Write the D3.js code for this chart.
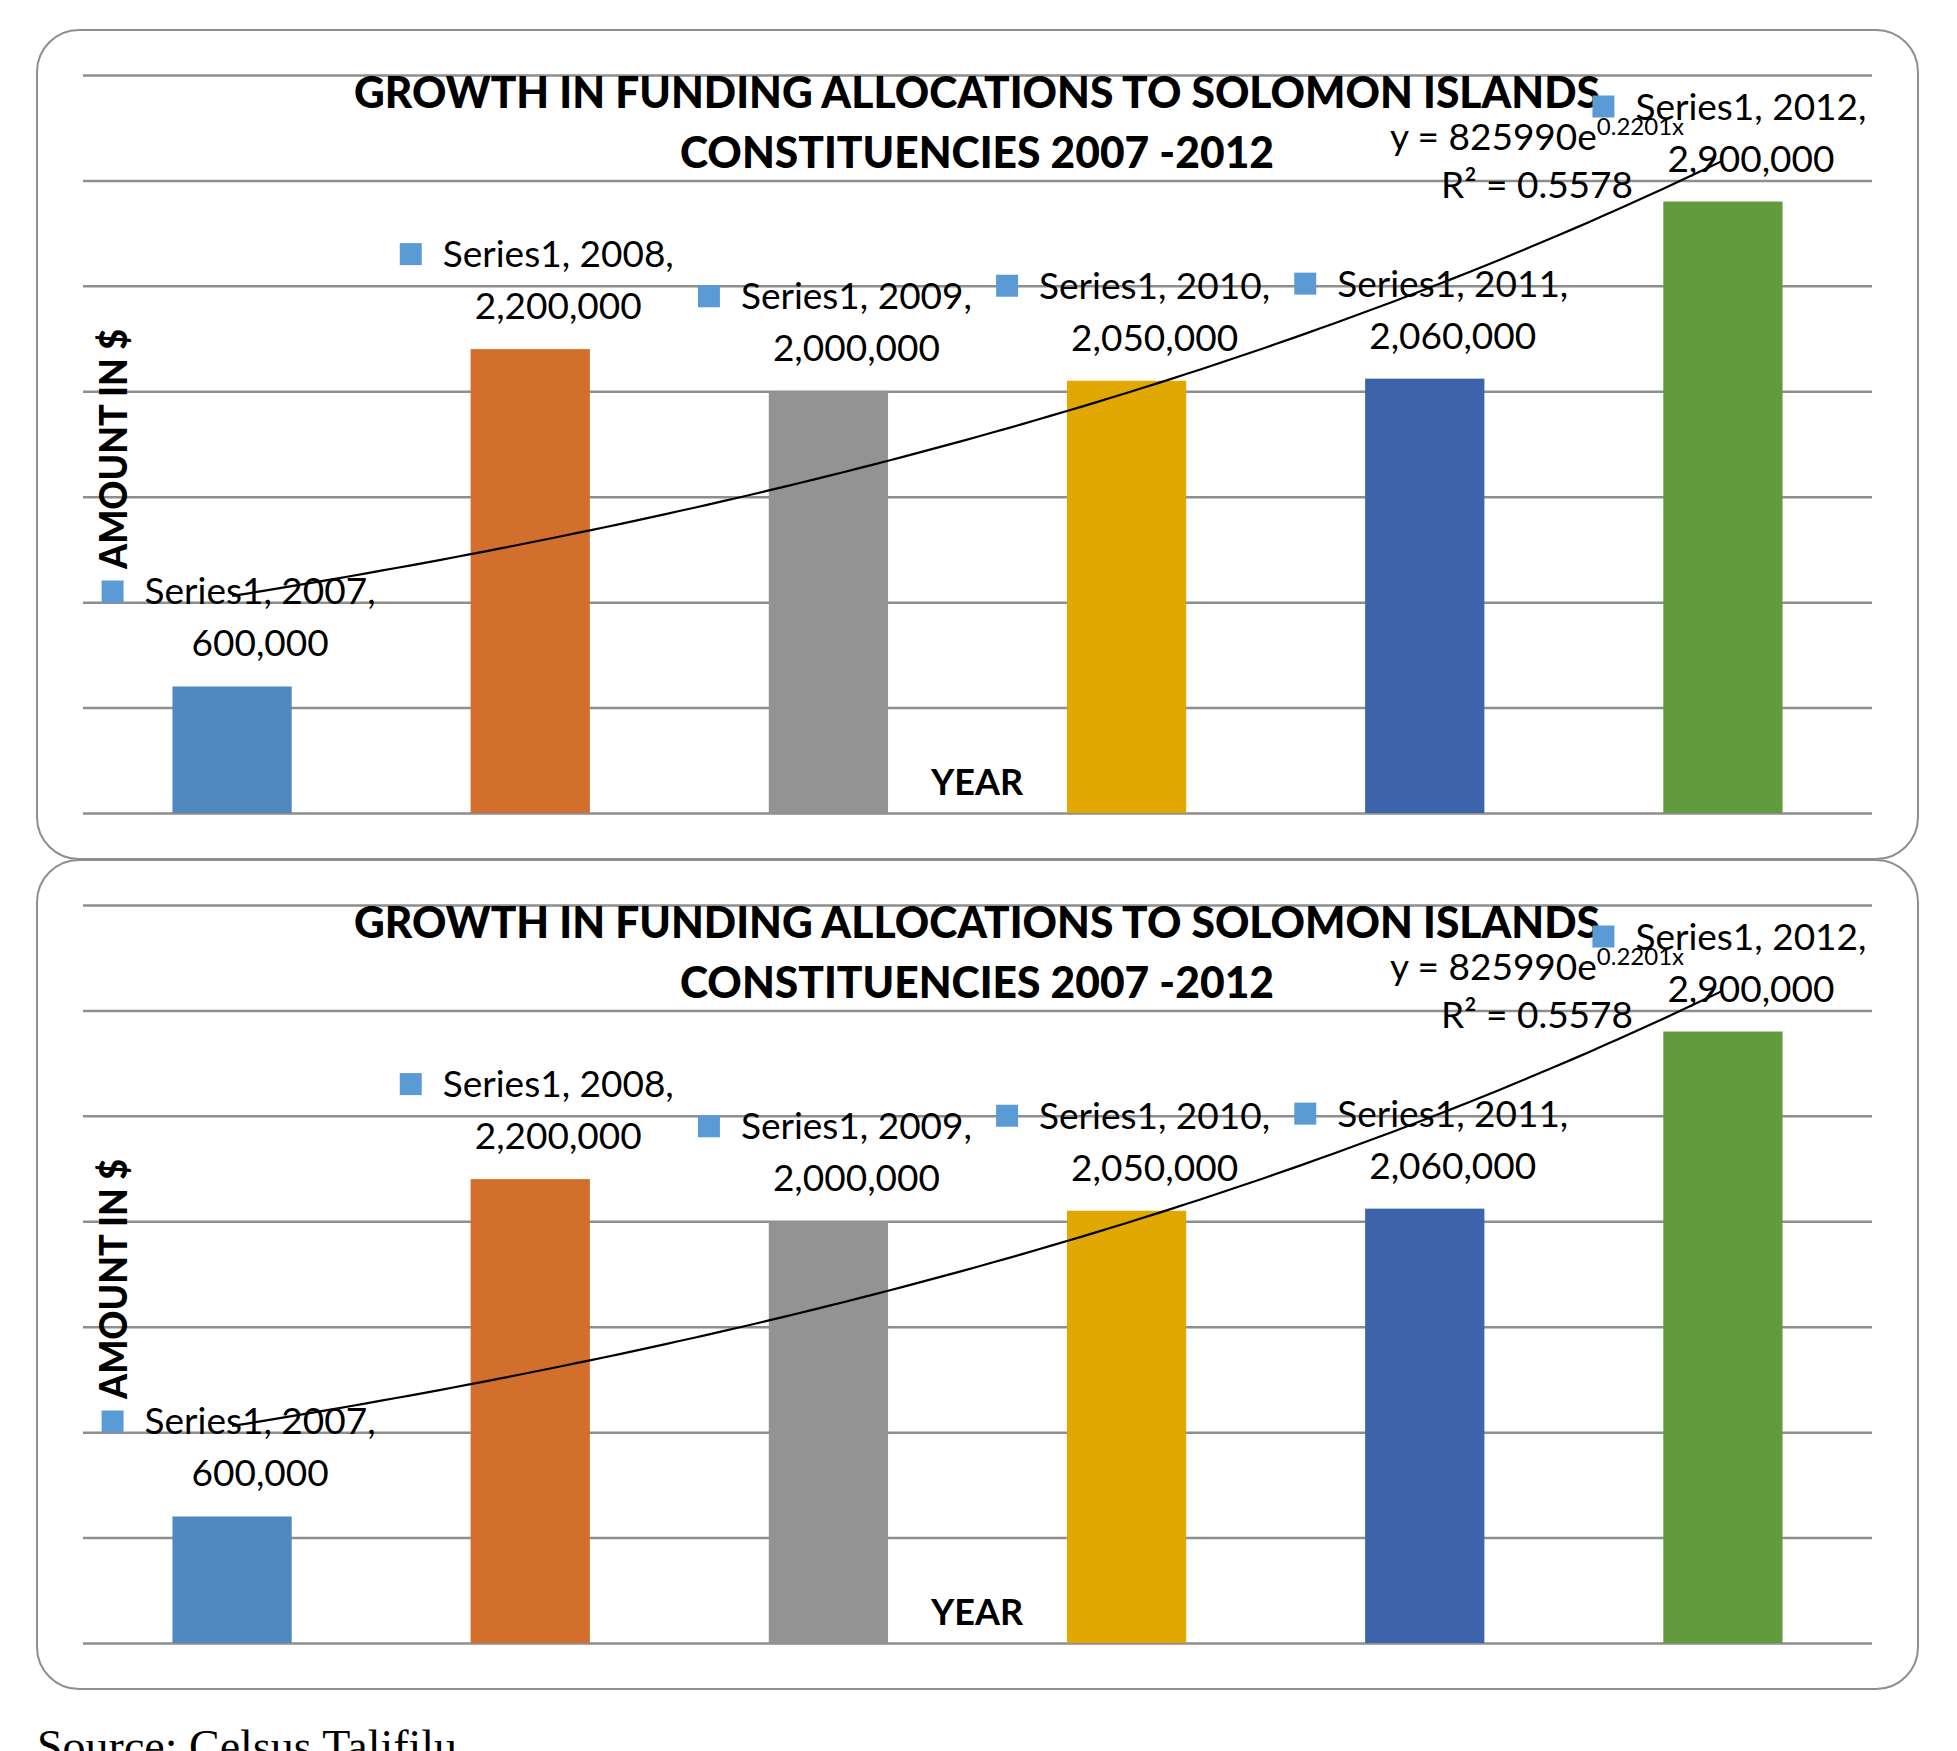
<!DOCTYPE html>
<html>
<head>
<meta charset="utf-8">
<script src="https://cdn.jsdelivr.net/npm/d3@7"></script>
<style>
  body { margin: 0; background: #fff; overflow: hidden; }
  svg { display: block; }
</style>
</head>
<body>
<div id="chart"></div>
<script>
/* funding allocations to constituencies */
var years = ["2007", "2008", "2009", "2010", "2011", "2012"];
var amounts = [600000, 2200000, 2000000, 2050000, 2060000, 2900000];
var yTicks = [0, 500000, 1000000, 1500000, 2000000, 2500000, 3000000, 3500000];
var trendA = 825990, trendB = 0.2201, trendR2 = "0.5578";
var titleLines = ["GROWTH IN FUNDING ALLOCATIONS TO SOLOMON ISLANDS", "CONSTITUENCIES 2007 -2012"];

var barColors = ["#5089BF", "#D36F2C", "#939393", "#E0A800", "#3D64AB", "#629A3E"];
var keyColor = "#5B9BD5";
var gridColor = "#8e8e8e";

var W = 1957, H = 1751;
var panelH = 830;

var svg = d3.select("#chart")
    .append("svg")
    .attr("width", W)
    .attr("height", H);

var x = d3.scaleBand().domain(years).range([83, 1872]).paddingInner(0.6).paddingOuter(0.3);
var y = d3.scaleLinear().domain([0, 3500000]).range([813, 75]);
var fmt = d3.format(",");

function center(d) { return x(d) + x.bandwidth() / 2; }

function drawPanel(offsetY) {
    var g = svg.append("g").attr("transform", "translate(0," + offsetY + ")");

    // frame
    g.append("rect")
        .attr("x", 37).attr("y", 30)
        .attr("width", 1918 - 37).attr("height", 829)
        .attr("rx", 42).attr("ry", 42)
        .style("fill", "none")
        .style("stroke", gridColor)
        .style("stroke-width", 2);

    // gridlines via axis
    var yAxis = d3.axisLeft(y).tickValues(yTicks).tickSize(-(1872 - 83)).tickFormat("");
    var ga = g.append("g")
        .attr("class", "axis")
        .attr("transform", "translate(83,0)")
        .call(yAxis);
    ga.select(".domain").remove();
    ga.selectAll(".tick line").style("stroke", gridColor).style("stroke-width", 2.5);

    // bars
    g.selectAll(".bar")
        .data(amounts)
        .enter()
        .append("rect")
        .attr("class", "bar")
        .attr("x", function(d, i) { return x(years[i]); })
        .attr("y", function(d) { return y(d); })
        .attr("width", x.bandwidth())
        .attr("height", function(d) { return y(0) - y(d); })
        .style("fill", function(d, i) { return barColors[i]; });

    // title
    g.selectAll(".title")
        .data(titleLines)
        .enter()
        .append("text")
        .attr("class", "title")
        .attr("x", 977)
        .attr("y", function(d, i) { return 108 + i * 60; })
        .attr("text-anchor", "middle")
        .attr("textLength", function(d, i) { return i === 0 ? 1246 : 594; })
        .attr("lengthAdjust", "spacingAndGlyphs")
        .style("font-family", "Lato, sans-serif")
        .style("font-weight", "900")
        .style("font-size", "43px")
        .style("fill", "#000")
        .text(function(d) { return d; });

    // axis titles
    g.append("text")
        .attr("transform", "translate(127,449) rotate(-90)")
        .attr("text-anchor", "middle")
        .attr("textLength", 240)
        .attr("lengthAdjust", "spacingAndGlyphs")
        .style("font-family", "Lato, sans-serif")
        .style("font-weight", "900")
        .style("font-size", "37px")
        .text("AMOUNT IN $");

    g.append("text")
        .attr("x", 977).attr("y", 795)
        .attr("text-anchor", "middle")
        .style("font-family", "Lato, sans-serif")
        .style("font-weight", "bold")
        .style("font-size", "36px")
        .text("YEAR");

    // trendline
    var xc = d3.scaleLinear().domain([1, years.length]).range([center(years[0]), center(years[years.length - 1])]);
    var tx = d3.range(1, years.length + 0.001, 0.05);
    var line = d3.line()
        .x(function(t) { return xc(t); })
        .y(function(t) { return y(trendA * Math.exp(trendB * t)); });
    g.append("path")
        .datum(tx)
        .attr("d", line)
        .style("fill", "none")
        .style("stroke", "#000")
        .style("stroke-width", 2.2);

    // data labels
    var labels = g.selectAll(".lbl")
        .data(amounts)
        .enter()
        .append("g")
        .attr("class", "lbl")
        .attr("transform", function(d, i) { return "translate(" + (center(years[i]) + 28) + "," + y(d) + ")"; });

    labels.append("text")
        .attr("class", "l1")
        .attr("y", -82)
        .attr("text-anchor", "middle")
        .style("font-family", "Lato, sans-serif")
        .style("font-size", "37px")
        .text(function(d, i) { return "Series1, " + years[i] + ","; });

    labels.append("text")
        .attr("y", -30)
        .attr("text-anchor", "middle")
        .style("font-family", "Lato, sans-serif")
        .style("font-size", "37px")
        .text(function(d) { return fmt(d); });

    labels.each(function() {
        var lg = d3.select(this);
        var w = lg.select(".l1").node().getComputedTextLength();
        lg.append("rect")
            .attr("x", -w / 2 - 43)
            .attr("y", -106)
            .attr("width", 22)
            .attr("height", 22)
            .style("fill", keyColor);
    });

    // trendline equation
    var eq = g.append("text")
        .attr("x", 1537).attr("y", 150)
        .attr("text-anchor", "middle")
        .style("font-family", "Lato, sans-serif")
        .style("font-size", "37px");
    eq.append("tspan").text("y = " + trendA + "e");
    eq.append("tspan").attr("dy", -15).style("font-size", "24px").text(trendB + "x");

    g.append("text")
        .attr("x", 1537).attr("y", 198)
        .attr("text-anchor", "middle")
        .style("font-family", "Lato, sans-serif")
        .style("font-size", "37px")
        .text("R\u00B2 = " + trendR2);
}

drawPanel(0);
drawPanel(panelH);

svg.append("text")
    .attr("x", 37).attr("y", 1762)
    .style("font-family", "'Liberation Serif', 'Times New Roman', serif")
    .style("font-size", "46px")
    .text("Source: Celsus Talifilu");
</script>
</body>
</html>
